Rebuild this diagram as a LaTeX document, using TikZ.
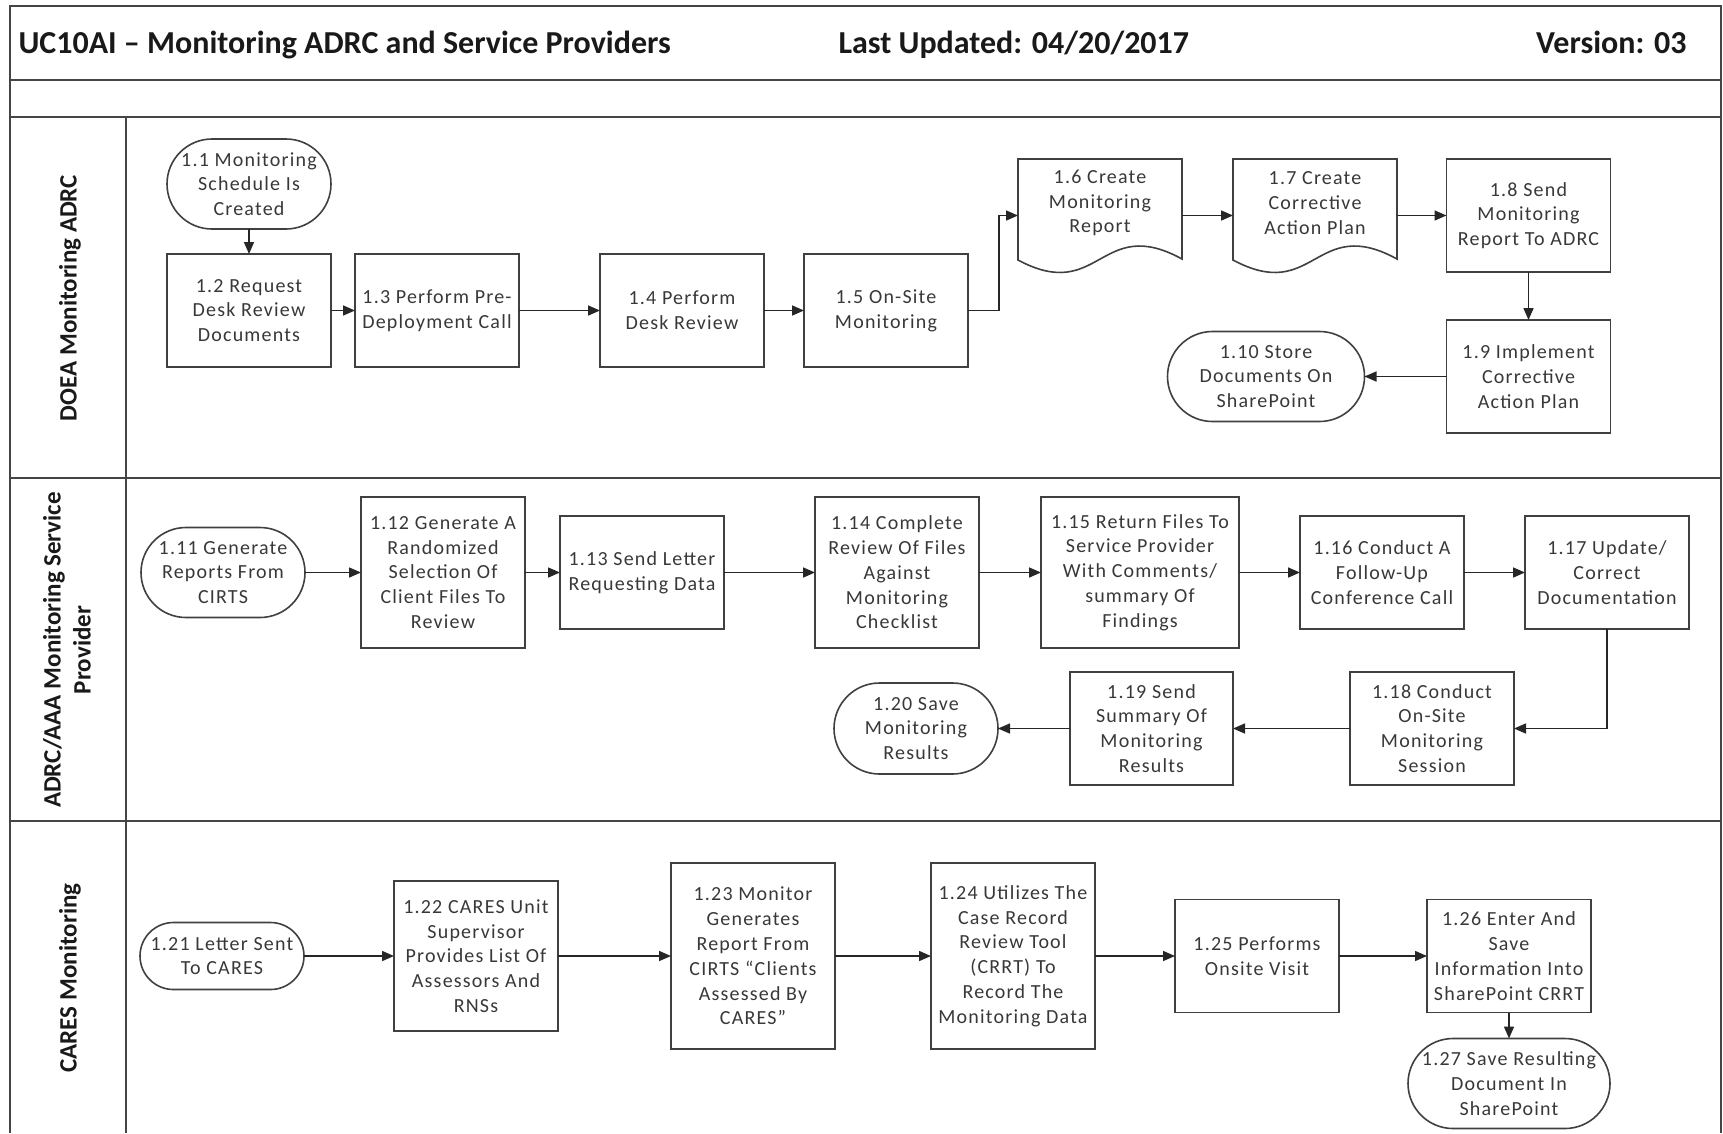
\documentclass[tikz,border=0pt]{standalone}
\usepackage{fontspec}
\setmainfont{Carlito}
\usepackage{tikz}
\usetikzlibrary{arrows.meta, positioning, calc}
\definecolor{LineGray}{HTML}{404040}
\definecolor{TextGray}{HTML}{383838}
\definecolor{FrameGray}{HTML}{454545}
\newcommand\nodefont{\fontsize{20}{24.8}\selectfont\addfontfeatures{LetterSpace=6}}
\newcommand\lanefont{\fontsize{25}{30}\selectfont\bfseries}
\newcommand\headfont{\fontsize{32}{38}\selectfont\bfseries}

\begin{document}
\begin{tikzpicture}[
  x=1pt, y=-1pt,
  box/.style={rectangle, draw=LineGray, line width=1.6pt, minimum width=164pt,
              minimum height=113pt, align=center, font=\nodefont, text=TextGray,
              inner sep=2pt, outer sep=0pt},
  term/.style={box, minimum height=90pt, rounded corners=45pt},
  doc/.style={rectangle, minimum width=164pt, minimum height=88pt,
              align=center, font=\nodefont, text=TextGray, inner sep=2pt,
              outer sep=0pt},
  docline/.style={draw=LineGray, line width=1.6pt},
  arr/.style={-{Triangle[length=12pt,width=10pt]}, line width=1.6pt, black!85},
  lane/.style={font=\lanefont, rotate=90, align=center, text=black!90},
  head/.style={font=\headfont, text=black!90},
  frame/.style={line width=2pt, FrameGray},
]
\useasboundingbox (0,0) rectangle (1723,1133);

% frame and lanes
\draw[frame] (10,1133) -- (10,6) -- (1721,6) -- (1721,1133);
\draw[frame] (10,80) -- (1721,80);
\draw[frame] (10,117) -- (1721,117);
\draw[frame] (10,478) -- (1721,478);
\draw[frame] (10,821) -- (1721,821);
\draw[frame] (126,117) -- (126,1133);

\node[head, anchor=base west] (title) at (15,53) {UC10AI – Monitoring ADRC and Service Providers};
\node[head, anchor=base west] (updated) at (835,53) {Last Updated: 04/20/2017};
\node[head, anchor=base east] (version) at (1690,53) {Version: 03};

\node[lane] (lane1) at (70,298) {DOEA Monitoring ADRC};
\node[lane] (lane2) at (67,650) {ADRC/AAA Monitoring Service\\Provider};
\node[lane] (lane3) at (70,978) {CARES Monitoring};

% lane 1
\node[term] (n11) at (249,184) {1.1 Monitoring\\Schedule Is\\Created};
\node[box, below=25pt of n11] (n12) {1.2 Request\\Desk Review\\Documents};
\node[box, right=24pt of n12] (n13) {1.3 Perform Pre-\\Deployment Call};
\node[box, right=81pt of n13] (n14) {1.4 Perform\\Desk Review};
\node[box, right=40pt of n14] (n15) {1.5 On-Site\\Monitoring};
\node[doc] (n16) at (1100,203) {1.6 Create\\Monitoring\\Report};
\node[doc, right=51pt of n16] (n17) {1.7 Create\\Corrective\\Action Plan};
\node[box] (n18) at (1528.5,215.5) {1.8 Send\\Monitoring\\Report To ADRC};
\node[box, below=48pt of n18] (n19) {1.9 Implement\\Corrective\\Action Plan};
\node[term, minimum width=197pt, left=82pt of n19] (n110) {1.10 Store\\Documents On\\SharePoint};

\foreach \d in {n16,n17}
  \draw[docline] (\d.north west) -- (\d.north east) -- ($(\d.south east)+(0,12)$)
    .. controls ($(\d.south)+(0,-33)$) and ($(\d.south)+(0,57)$) .. ($(\d.south west)+(0,13)$)
    -- cycle;

\draw[arr] (n11) -- (n12);
\draw[arr] (n12) -- (n13);
\draw[arr] (n13) -- (n14);
\draw[arr] (n14) -- (n15);
\draw[arr] (n15.east) -- ++(31,0) |- (n16.west |- n18.west);
\draw[arr] (n16.east |- n18.west) -- (n17.west |- n18.west);
\draw[arr] (n17.east |- n18.west) -- (n18.west);
\draw[arr] (n18) -- (n19);
\draw[arr] (n19) -- (n110);

% lane 2
\node[term] (n111) at (223,572.5) {1.11 Generate\\Reports From\\CIRTS};
\node[box, minimum height=151pt, right=56pt of n111] (n112) {1.12 Generate A\\Randomized\\Selection Of\\Client Files To\\Review};
\node[box, right=35pt of n112] (n113) {1.13 Send Letter\\Requesting Data};
\node[box, minimum height=151pt, right=91pt of n113] (n114) {1.14 Complete\\Review Of Files\\Against\\Monitoring\\Checklist};
\node[box, minimum height=151pt, minimum width=198pt, right=62pt of n114] (n115) {1.15 Return Files To\\Service Provider\\With Comments/\\summary Of\\Findings};
\node[box, right=61pt of n115] (n116) {1.16 Conduct A\\Follow-Up\\Conference Call};
\node[box, right=61pt of n116] (n117) {1.17 Update/\\Correct\\Documentation};
\node[box] (n118) at (1432,728.5) {1.18 Conduct\\On-Site\\Monitoring\\Session};
\node[box, minimum width=163pt, left=117pt of n118] (n119) {1.19 Send\\Summary Of\\Monitoring\\Results};
\node[term, minimum height=91pt, rounded corners=45.5pt, left=72pt of n119] (n120) {1.20 Save\\Monitoring\\Results};

\draw[arr] (n111) -- (n112);
\draw[arr] (n112) -- (n113);
\draw[arr] (n113) -- (n114);
\draw[arr] (n114) -- (n115);
\draw[arr] (n115) -- (n116);
\draw[arr] (n116) -- (n117);
\draw[arr] (n117.south) |- (n118.east);
\draw[arr] (n118) -- (n119);
\draw[arr] (n119) -- (n120);

% lane 3
\node[term, minimum height=67pt, rounded corners=33.5pt] (n121) at (222,956) {1.21 Letter Sent\\To CARES};
\node[box, minimum height=150pt, right=90pt of n121] (n122) {1.22 CARES Unit\\Supervisor\\Provides List Of\\Assessors And\\RNSs};
\node[box, minimum height=186pt, right=113pt of n122] (n123) {1.23 Monitor\\Generates\\Report From\\CIRTS “Clients\\Assessed By\\CARES”};
\node[box, minimum height=186pt, right=96pt of n123] (n124) {1.24 Utilizes The\\Case Record\\Review Tool\\(CRRT) To\\Record The\\Monitoring Data};
\node[box, right=80pt of n124] (n125) {1.25 Performs\\Onsite Visit};
\node[box, right=88pt of n125] (n126) {1.26 Enter And\\Save\\Information Into\\SharePoint CRRT};
\node[term, minimum width=202pt, below=26pt of n126] (n127) {1.27 Save Resulting\\Document In\\SharePoint};

\draw[arr] (n121) -- (n122);
\draw[arr] (n122) -- (n123);
\draw[arr] (n123) -- (n124);
\draw[arr] (n124) -- (n125);
\draw[arr] (n125) -- (n126);
\draw[arr] (n126) -- (n127);

\end{tikzpicture}
\end{document}
